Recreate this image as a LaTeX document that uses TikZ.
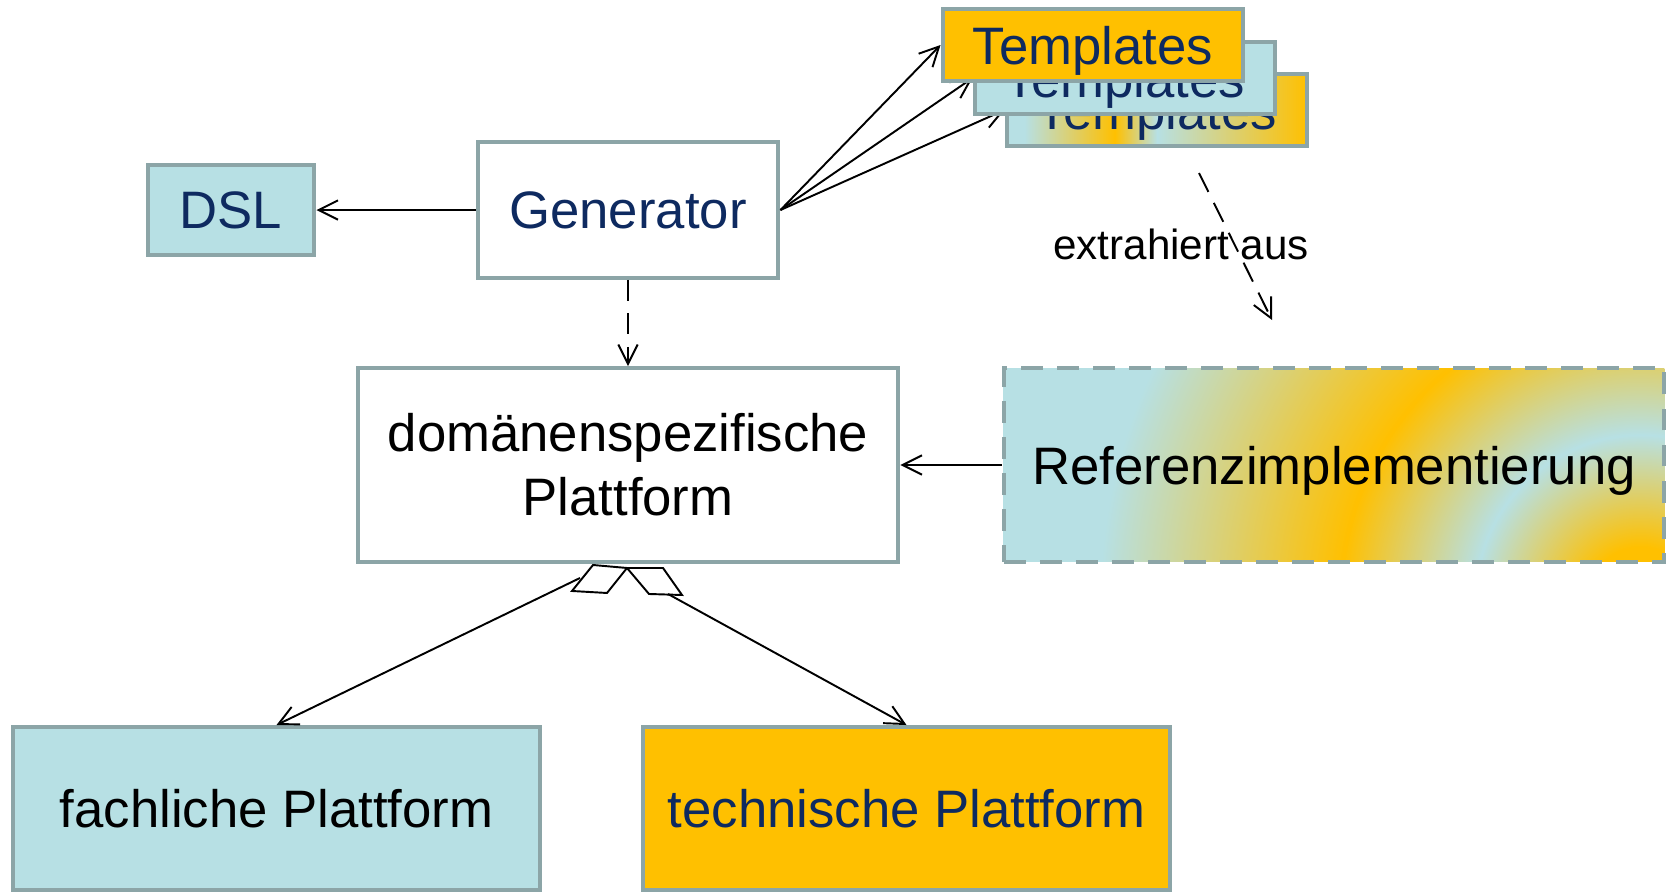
\documentclass[tikz,border=0pt]{standalone}
\usepackage{fontspec}
\setmainfont{Liberation Sans}
\usetikzlibrary{arrows.meta,calc}

\definecolor{lb}{HTML}{B7E0E4}
\definecolor{og}{HTML}{FFC000}
\definecolor{frame}{HTML}{8CA5A7}
\definecolor{navy}{HTML}{0E2A60}

% horizontal colour bands for the rear template (path maps to 25bp..75bp)
\pgfdeclarehorizontalshading{tplshade}{100bp}{color(0bp)=(lb); color(25bp)=(lb); color(28bp)=(lb); color(43bp)=(og); color(50bp)=(lb); color(75bp)=(og); color(100bp)=(og)}
% concentric rings for the reference implementation (radius 25bp = 14cm)
\pgfdeclareradialshading{refring}{\pgfpointorigin}{color(0bp)=(og); color(1.9bp)=(og); color(5.9bp)=(lb); color(10.7bp)=(og); color(19.3bp)=(lb); color(25bp)=(lb); color(50bp)=(lb)}

\begin{document}
\begin{tikzpicture}[x=0.02cm,y=-0.02cm,
  box/.style={draw=frame,line width=0.08cm,inner sep=0pt,
    font=\fontsize{30}{36.4}\selectfont,align=center},
  link/.style={line width=1.1pt,-{Straight Barb[length=11pt,width=11pt]}},
  dlink/.style={link,dash pattern=on 12pt off 7pt},
  diam/.style={line width=1.1pt,fill=white,line join=miter},
]
\useasboundingbox (0,0) rectangle (1672,893);

% top row
\node[box,fill=lb,text=navy,minimum width=3.34cm,minimum height=1.82cm] (dsl) at (231,210) {DSL};
\node[box,fill=white,text=navy,minimum width=6.02cm,minimum height=2.72cm] (gen) at (628,210) {Generator};

% stacked templates, back to front
\node[box,shade,shading=tplshade,text=navy,text depth=0pt,minimum width=6.02cm,minimum height=1.46cm] (tpl3) at (1157,110) {Templates};
\draw[link] (gen.east) -- (tpl3.west);
\node[box,fill=lb,text=navy,text depth=0pt,minimum width=6.02cm,minimum height=1.46cm] (tpl2) at (1125,78) {Templates};
\draw[link] (gen.east) -- (tpl2.west);
\node[box,fill=og,text=navy,text depth=0pt,minimum width=6.02cm,minimum height=1.46cm] (tpl1) at (1093,45) {Templates};
\draw[link] (gen.east) -- (tpl1.west);

\draw[link] (gen.west) -- (dsl.east);

% middle row
\node[box,fill=white,text=black,minimum width=10.82cm,minimum height=3.88cm] (pf) at (628,465) {domänenspezifische\\Plattform};
\node[box,fill=lb,text=black,text depth=0pt,dash pattern=on 12.5pt off 8pt,minimum width=13.22cm,minimum height=3.88cm,
  path picture={\shade[shading=refring] ($(path picture bounding box.south east)+(-24,38)$) circle[radius=14cm];}] (ref) at (1334,465) {Referenzimplementierung};

\draw[dlink] (gen.south) -- (pf.north);
\draw[link] (ref.west) -- (pf.east);

\node[font=\fontsize{24}{28}\selectfont] (lbl) at (1181,244) {extrahiert aus};
\coordinate (ex1) at (1199,173);
\coordinate (ex2) at (1272,320);
\draw[dlink] (ex1) -- (ex2);

% bottom row
\node[box,fill=lb,text=black,minimum width=10.54cm,minimum height=3.26cm] (fach) at (276.5,808.5) {fachliche Plattform};
\node[box,fill=og,text=navy,minimum width=10.54cm,minimum height=3.26cm] (tech) at (906.5,808.5) {technische Plattform};

% aggregation diamonds under the platform
\draw[diam] ($(pf.south)+(-35,1)$) -- ($(pf.south)+(-1,4)$) -- ($(pf.south)+(-21,29)$) -- ($(pf.south)+(-56,27)$) -- cycle;
\draw[diam] ($(pf.south)+(-1,4)$) -- ($(pf.south)+(35,4)$) -- ($(pf.south)+(54,31)$) -- ($(pf.south)+(21,30)$) -- cycle;
\coordinate (dl) at ($(pf.south)+(-48,14)$);
\coordinate (dr) at ($(pf.south)+(40,30)$);
\draw[link] (dl) -- (fach.north);
\draw[link] (dr) -- (tech.north);
\end{tikzpicture}
\end{document}
